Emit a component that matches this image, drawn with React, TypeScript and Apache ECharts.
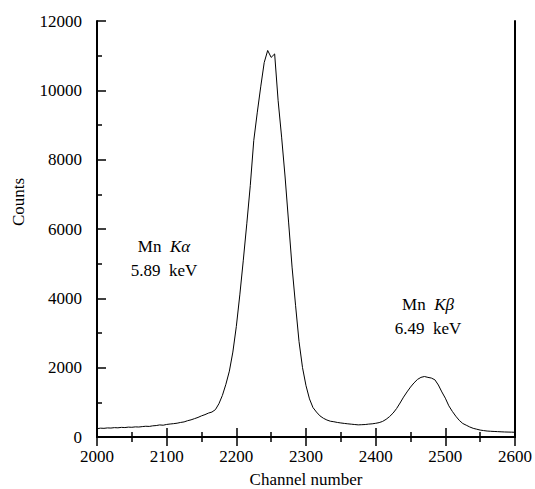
import React, { useEffect, useRef } from "react";
import * as echarts from "echarts";

const channelStart = 2000;
const channelStep = 5;
const counts: number[] = [
  240, 255, 250, 262, 258, 270, 265, 278, 272, 285,
  280, 292, 288, 300, 310, 305, 322, 330, 348, 340,
  362, 375, 385, 398, 420, 435, 470, 495, 530, 565,
  610, 645, 690, 720, 790, 960, 1200, 1520, 1900, 2450,
  3190, 4100, 5100, 6150, 7250, 8550, 9350, 10100, 10800, 11150,
  10950, 11050, 9700, 8650, 7500, 6200, 4900, 3800, 2750, 2000,
  1480, 1100, 850, 720, 610, 540, 490, 455, 440, 420,
  405, 392, 380, 370, 360, 350, 355, 360, 372, 380,
  395, 415, 450, 510, 590, 690, 820, 980, 1150, 1300,
  1440, 1560, 1660, 1720, 1745, 1720, 1700, 1650, 1500, 1300,
  1120, 900, 740, 600, 480, 390, 340, 290, 250, 225,
  200, 185, 172, 165, 160, 155, 150, 145, 142, 140,
  136,
];
const xTicks = { min: 2000, max: 2600, interval: 100 };
const yTicks = { min: 0, max: 12000, interval: 2000 };
const xTitle = "Channel number";
const yTitle = "Counts";
const peakA = { name: "Mn", line: "Kα", energy: "5.89  keV" };
const peakB = { name: "Mn", line: "Kβ", energy: "6.49  keV" };

const FONT = "'Times New Roman', Times, 'Liberation Serif', 'DejaVu Serif', serif";

export default function App() {
  const ref = useRef<HTMLDivElement>(null);
  useEffect(() => {
    if (!ref.current) return;
    const chart = echarts.init(ref.current, null, { renderer: "svg" });
    const data = counts.map((c, i) => [channelStart + i * channelStep, c]);
    const axisLine = { show: true, lineStyle: { color: "#000", width: 2 } };
    const label = {
      color: "#000",
      fontFamily: FONT,
      fontSize: 17,
      formatter: (v: number) => String(v),
    };
    const annot = (p: typeof peakA, x: number, y: number) => ({
      type: "text",
      x,
      y,
      style: {
        text: `{n|${p.name}  }{i|${p.line}}\n{n|${p.energy}}`,
        align: "center",
        verticalAlign: "middle",
        lineHeight: 24,
        fontFamily: FONT,
        fontSize: 17,
        rich: {
          n: { fontFamily: FONT, fontSize: 17, fill: "#000", lineHeight: 24 },
          i: { fontFamily: FONT, fontSize: 17, fontStyle: "italic", fill: "#000", lineHeight: 24 },
        },
      },
    });
    const tick = { show: true, inside: true, length: 9, lineStyle: { color: "#000", width: 1.5 } };
    const minor = { show: true, splitNumber: 2, length: 5, lineStyle: { color: "#000", width: 1.5 } };
    chart.setOption({
      animation: false,
      backgroundColor: "#fff",
      textStyle: { fontFamily: FONT },
      grid: { left: 97, right: 19, top: 21, bottom: 52, containLabel: false },
      xAxis: [
        {
          type: "value",
          ...xTicks,
          position: "bottom",
          axisLine,
          axisTick: tick,
          minorTick: minor,
          axisLabel: { ...label, margin: 11, showMinLabel: true, showMaxLabel: true },
          splitLine: { show: false },
        },
        {
          type: "value",
          ...xTicks,
          position: "top",
          axisLine,
          axisTick: tick,
          minorTick: minor,
          axisLabel: { show: false },
          splitLine: { show: false },
        },
      ],
      yAxis: [
        {
          type: "value",
          ...yTicks,
          position: "left",
          axisLine,
          axisTick: tick,
          minorTick: minor,
          axisLabel: { ...label, margin: 15 },
          splitLine: { show: false },
        },
        {
          type: "value",
          ...yTicks,
          position: "right",
          axisLine,
          axisTick: { show: false },
          axisLabel: { show: false },
          splitLine: { show: false },
        },
      ],
      series: [
        {
          type: "line",
          data,
          xAxisIndex: 0,
          yAxisIndex: 0,
          showSymbol: false,
          symbol: "none",
          lineStyle: { color: "#000", width: 1 },
        },
      ],
      graphic: [
        {
          type: "text",
          x: 306,
          y: 479,
          style: { text: xTitle, fontFamily: FONT, fontSize: 17, fill: "#000", align: "center", verticalAlign: "middle" },
        },
        {
          type: "text",
          x: 18,
          y: 202,
          rotation: Math.PI / 2,
          style: { text: yTitle, fontFamily: FONT, fontSize: 17, fill: "#000", align: "center", verticalAlign: "middle" },
        },
        annot(peakA, 164, 258),
        annot(peakB, 428, 316),
      ],
    });
    return () => chart.dispose();
  }, []);
  return (
    <div
      ref={ref}
      style={{ position: "fixed", left: 0, top: 0, width: 535, height: 489, background: "#fff" }}
    />
  );
}
